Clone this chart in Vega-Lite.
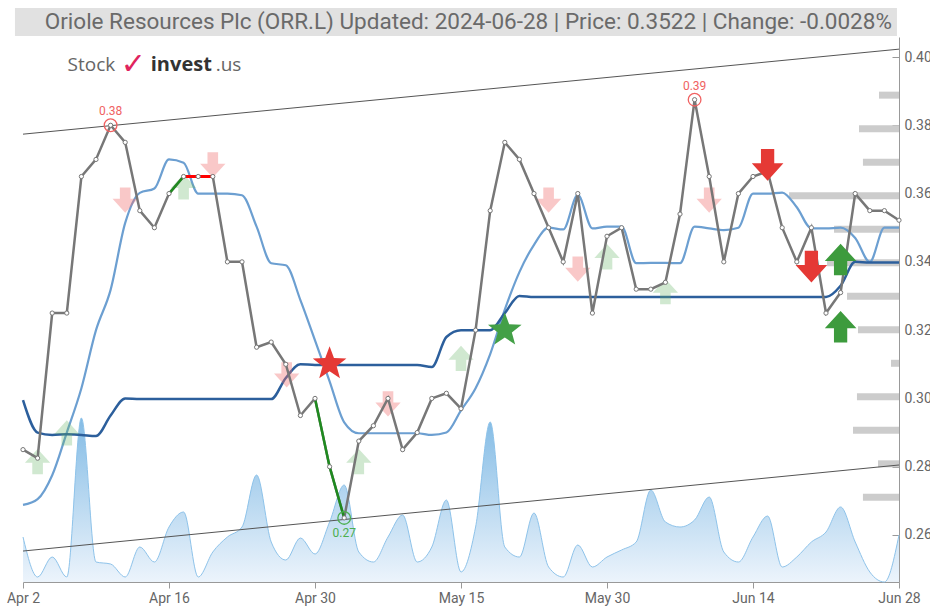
{
  "$schema": "https://vega.github.io/schema/vega-lite/v6.json",
  "autosize": {"type": "none"},
  "padding": {"left": 23, "top": 37, "right": 31, "bottom": 26},
  "width": 876,
  "height": 545,
  "config": {
    "view": {"stroke": null},
    "font": "Roboto, Liberation Sans, sans-serif"
  },
  "datasets": {
    "price": [
      {"i":0,"v":0.285},{"i":1,"v":0.2825},{"i":2,"v":0.325},{"i":3,"v":0.325},{"i":4,"v":0.365},{"i":5,"v":0.37},
      {"i":6,"v":0.38},{"i":7,"v":0.375},{"i":8,"v":0.355},{"i":9,"v":0.35},{"i":10,"v":0.36},{"i":11,"v":0.365},
      {"i":12,"v":0.365},{"i":13,"v":0.365},{"i":14,"v":0.34},{"i":15,"v":0.34},{"i":16,"v":0.315},{"i":17,"v":0.3165},
      {"i":18,"v":0.31},{"i":19,"v":0.295},{"i":20,"v":0.3},{"i":21,"v":0.28},{"i":22,"v":0.265},{"i":23,"v":0.2875},
      {"i":24,"v":0.292},{"i":25,"v":0.3},{"i":26,"v":0.285},{"i":27,"v":0.29},{"i":28,"v":0.3},{"i":29,"v":0.3015},
      {"i":30,"v":0.297},{"i":31,"v":0.32},{"i":32,"v":0.355},{"i":33,"v":0.375},{"i":34,"v":0.37},{"i":35,"v":0.36},
      {"i":36,"v":0.35},{"i":37,"v":0.34},{"i":38,"v":0.36},{"i":39,"v":0.325},{"i":40,"v":0.3475},{"i":41,"v":0.35},
      {"i":42,"v":0.332},{"i":43,"v":0.332},{"i":44,"v":0.334},{"i":45,"v":0.354},{"i":46,"v":0.3875},{"i":47,"v":0.365},
      {"i":48,"v":0.34},{"i":49,"v":0.36},{"i":50,"v":0.365},{"i":51,"v":0.3665},{"i":52,"v":0.35},{"i":53,"v":0.34},
      {"i":54,"v":0.35},{"i":55,"v":0.325},{"i":56,"v":0.331},{"i":57,"v":0.36},{"i":58,"v":0.355},{"i":59,"v":0.355},
      {"i":60,"v":0.3522}
    ],
    "greenSeg": [
      {"i":10,"v":0.36,"g":"a"},{"i":11,"v":0.365,"g":"a"},
      {"i":20,"v":0.3,"g":"b"},{"i":21,"v":0.28,"g":"b"},{"i":22,"v":0.265,"g":"b"}
    ],
    "redSeg": [
      {"i":11,"v":0.365},{"i":12,"v":0.365},{"i":13,"v":0.365}
    ],
    "band": [
      {"i":0,"v":0.2688},{"i":1,"v":0.2705},{"i":2,"v":0.2775},{"i":3,"v":0.29},{"i":4,"v":0.303},{"i":5,"v":0.32},
      {"i":6,"v":0.3318},{"i":7,"v":0.3514},{"i":8,"v":0.3602},{"i":9,"v":0.3615},{"i":10,"v":0.37},{"i":11,"v":0.369},
      {"i":12,"v":0.36},{"i":13,"v":0.36},{"i":14,"v":0.36},{"i":15,"v":0.3595},{"i":16,"v":0.3503},{"i":17,"v":0.3396},
      {"i":18,"v":0.339},{"i":19,"v":0.3288},{"i":20,"v":0.317},{"i":21,"v":0.305},{"i":22,"v":0.293},{"i":23,"v":0.2898},
      {"i":24,"v":0.2898},{"i":25,"v":0.2898},{"i":26,"v":0.2898},{"i":27,"v":0.2898},{"i":28,"v":0.2893},{"i":29,"v":0.29},
      {"i":30,"v":0.2965},{"i":31,"v":0.303},{"i":32,"v":0.313},{"i":33,"v":0.326},{"i":34,"v":0.337},{"i":35,"v":0.345},
      {"i":36,"v":0.35},{"i":37,"v":0.3495},{"i":38,"v":0.3596},{"i":39,"v":0.3498},{"i":40,"v":0.3503},{"i":41,"v":0.3503},
      {"i":42,"v":0.3396},{"i":43,"v":0.3397},{"i":44,"v":0.3397},{"i":45,"v":0.3396},{"i":46,"v":0.3503},{"i":47,"v":0.3498},
      {"i":48,"v":0.3493},{"i":49,"v":0.35},{"i":50,"v":0.36},{"i":51,"v":0.36},{"i":52,"v":0.3603},{"i":53,"v":0.356},
      {"i":54,"v":0.3498},{"i":55,"v":0.3498},{"i":56,"v":0.35},{"i":57,"v":0.347},{"i":58,"v":0.34},{"i":59,"v":0.35},
      {"i":60,"v":0.35}
    ],
    "base": [
      {"i":0,"v":0.2995},{"i":1,"v":0.29},{"i":2,"v":0.2893},{"i":3,"v":0.2895},{"i":4,"v":0.2893},{"i":5,"v":0.289},
      {"i":6,"v":0.295},{"i":7,"v":0.3},{"i":8,"v":0.2998},{"i":9,"v":0.2998},{"i":10,"v":0.2998},{"i":11,"v":0.2998},
      {"i":12,"v":0.2998},{"i":13,"v":0.2998},{"i":14,"v":0.2998},{"i":15,"v":0.2998},{"i":16,"v":0.2998},{"i":17,"v":0.2998},
      {"i":18,"v":0.306},{"i":19,"v":0.31},{"i":20,"v":0.3098},{"i":21,"v":0.3098},{"i":22,"v":0.3098},{"i":23,"v":0.3098},
      {"i":24,"v":0.3098},{"i":25,"v":0.3098},{"i":26,"v":0.3098},{"i":27,"v":0.3098},{"i":28,"v":0.3092},{"i":29,"v":0.318},
      {"i":30,"v":0.32},{"i":31,"v":0.32},{"i":32,"v":0.32},{"i":33,"v":0.325},{"i":34,"v":0.33},{"i":35,"v":0.3297},
      {"i":36,"v":0.3297},{"i":40,"v":0.3297},{"i":45,"v":0.3297},{"i":50,"v":0.3297},{"i":55,"v":0.3297},
      {"i":56,"v":0.333},{"i":57,"v":0.34},{"i":58,"v":0.3398},{"i":59,"v":0.3398},{"i":60,"v":0.3398}
    ],
    "vol": [
      {"i":0,"vol":45},{"i":1,"vol":5},{"i":2,"vol":25},{"i":3,"vol":5},{"i":4,"vol":164},{"i":5,"vol":20},
      {"i":6,"vol":18},{"i":7,"vol":5},{"i":8,"vol":35},{"i":9,"vol":20},{"i":10,"vol":55},{"i":11,"vol":70},
      {"i":12,"vol":5},{"i":13,"vol":30},{"i":14,"vol":45},{"i":15,"vol":55},{"i":16,"vol":107},{"i":17,"vol":40},
      {"i":18,"vol":22},{"i":19,"vol":44},{"i":20,"vol":28},{"i":21,"vol":60},{"i":22,"vol":97},{"i":23,"vol":30},
      {"i":24,"vol":20},{"i":25,"vol":45},{"i":26,"vol":67},{"i":27,"vol":20},{"i":28,"vol":35},{"i":29,"vol":82},
      {"i":30,"vol":10},{"i":31,"vol":55},{"i":32,"vol":160},{"i":33,"vol":35},{"i":34,"vol":25},{"i":35,"vol":69},
      {"i":36,"vol":15},{"i":37,"vol":5},{"i":38,"vol":37},{"i":39,"vol":15},{"i":40,"vol":25},{"i":41,"vol":32},
      {"i":42,"vol":40},{"i":43,"vol":92},{"i":44,"vol":60},{"i":45,"vol":55},{"i":46,"vol":62},{"i":47,"vol":85},
      {"i":48,"vol":30},{"i":49,"vol":20},{"i":50,"vol":45},{"i":51,"vol":66},{"i":52,"vol":15},{"i":53,"vol":25},
      {"i":54,"vol":40},{"i":55,"vol":50},{"i":56,"vol":75},{"i":57,"vol":40},{"i":58,"vol":10},{"i":59,"vol":0},
      {"i":60,"vol":47}
    ],
    "levels": [
      {"v":0.39,"i":58.63,"end":60},{"v":0.38,"i":57.26,"end":60},{"v":0.37,"i":57.53,"end":60},
      {"v":0.36,"i":52.47,"end":60},{"v":0.35,"i":55.55,"end":60},{"v":0.34,"i":55.07,"end":60},
      {"v":0.33,"i":56.44,"end":60},{"v":0.32,"i":57.19,"end":60},{"v":0.31,"i":59.45,"end":60},
      {"v":0.30,"i":57.12,"end":60},{"v":0.29,"i":56.85,"end":60},{"v":0.28,"i":58.56,"end":60},
      {"v":0.27,"i":57.53,"end":60}
    ],
    "trend": [
      {"i":0,"v":0.3774,"g":"upper"},{"i":60,"v":0.4023,"g":"upper"},
      {"i":0,"v":0.2553,"g":"lower"},{"i":60,"v":0.2805,"g":"lower"}
    ],
    "arrowsFaint": [
      {"i":7,"v":0.3581,"signal":"sell"},{"i":13,"v":0.3684,"signal":"sell"},{"i":18.06,"v":0.3069,"signal":"sell"},
      {"i":25,"v":0.2984,"signal":"sell"},{"i":36,"v":0.3581,"signal":"sell"},{"i":38,"v":0.3379,"signal":"sell"},
      {"i":47,"v":0.3581,"signal":"sell"},
      {"i":1,"v":0.2815,"signal":"buy"},{"i":3,"v":0.2899,"signal":"buy"},{"i":11,"v":0.362,"signal":"buy"},
      {"i":23,"v":0.2815,"signal":"buy"},{"i":30,"v":0.3117,"signal":"buy"},{"i":40,"v":0.3415,"signal":"buy"},
      {"i":44,"v":0.3313,"signal":"buy"}
    ],
    "arrowsStrong": [
      {"i":51,"v":0.3684,"signal":"sell"},{"i":54,"v":0.3386,"signal":"sell"},
      {"i":56,"v":0.3407,"signal":"buy"},{"i":56,"v":0.321,"signal":"buy"}
    ],
    "stars": [
      {"i":21,"v":0.3101,"signal":"sell"},{"i":33,"v":0.32,"signal":"buy"}
    ],
    "highs": [
      {"i":6,"v":0.38,"label":"0.38"},{"i":46,"v":0.3875,"label":"0.39"}
    ],
    "lows": [
      {"i":22,"v":0.265,"label":"0.27"}
    ],
    "headerBand": [
      {"i":-0.55,"i2":59.86,"v":0.40615,"v2":0.41435}
    ],
    "headerText": [
      {"i":30.5,"v":0.41025,"t":"Oriole Resources Plc (ORR.L)   Updated: 2024-06-28 | Price: 0.3522 | Change: -0.0028%"}
    ]
  },
  "encoding": {
    "x": {
      "field": "i", "type": "quantitative",
      "scale": {"domain": [0, 60], "nice": false, "zero": false},
      "axis": {
        "orient": "bottom",
        "values": [0, 10, 20, 30, 40, 50, 60],
        "labelExpr": "['Apr 2','Apr 16','Apr 30','May 15','May 30','Jun 14','Jun 28'][round(datum.value/10)]",
        "labelFlush": false, "grid": false, "title": null,
        "domainColor": "#999", "tickColor": "#999", "tickSize": 6,
        "labelColor": "#666", "labelFontSize": 14, "labelPadding": 3
      }
    },
    "y": {
      "field": "v", "type": "quantitative",
      "scale": {"domain": [0.24623, 0.40586], "nice": false, "zero": false},
      "axis": null
    }
  },
  "layer": [
    {
      "data": {"name": "vol"},
      "mark": {
        "type": "area", "interpolate": "monotone",
        "line": {"color": "#8ec3ea", "strokeWidth": 1},
        "color": {"gradient": "linear", "x1": 0, "y1": 0, "x2": 0, "y2": 1,
          "stops": [{"offset": 0, "color": "#4f9fda"}, {"offset": 1, "color": "#e4effa"}]}
      },
      "encoding": {
        "y": {"field": "vol", "type": "quantitative", "scale": {"domain": [0, 545], "nice": false}, "axis": null}
      }
    },
    {
      "data": {"name": "headerBand"},
      "mark": {"type": "rect", "color": "#e1e1e1"},
      "encoding": {"x2": {"field": "i2"}, "y2": {"field": "v2"}}
    },
    {
      "data": {"name": "headerText"},
      "mark": {"type": "text", "fontSize": 22.5, "color": "#6a6a6a", "align": "center", "baseline": "middle"},
      "encoding": {"text": {"field": "t", "type": "nominal"}}
    },
    {
      "data": {"name": "levels"},
      "mark": {"type": "bar", "size": 7, "color": "#cccccc"},
      "encoding": {"x2": {"field": "end"}}
    },
    {
      "data": {"name": "trend"},
      "mark": {"type": "line", "color": "#555555", "strokeWidth": 1},
      "encoding": {"detail": {"field": "g", "type": "nominal"}}
    },
    {
      "data": {"name": "band"},
      "mark": {"type": "line", "color": "#6c9fd1", "strokeWidth": 2.2, "interpolate": "monotone"},
      "encoding": {}
    },
    {
      "data": {"name": "base"},
      "mark": {"type": "line", "color": "#2c5f9c", "strokeWidth": 2.5, "interpolate": "monotone"},
      "encoding": {}
    },
    {
      "data": {"name": "arrowsFaint"},
      "mark": {"type": "point", "filled": true, "size": 640, "opacity": 1, "strokeWidth": 0},
      "encoding": {
        "shape": {"field": "signal", "type": "nominal", "legend": null,
          "scale": {"domain": ["sell", "buy"], "range": ["M-0.42,-1L0.42,-1L0.42,-0.1L1,-0.1L0,1L-1,-0.1L-0.42,-0.1Z", "M-0.42,1L0.42,1L0.42,0.1L1,0.1L0,-1L-1,0.1L-0.42,0.1Z"]}},
        "color": {"field": "signal", "type": "nominal", "legend": null,
          "scale": {"domain": ["sell", "buy"], "range": ["rgba(238,110,110,0.38)", "rgba(100,180,100,0.3)"]}}
      }
    },
    {
      "data": {"name": "price"},
      "mark": {"type": "line", "color": "#777777", "strokeWidth": 2.5},
      "encoding": {
        "y": {
          "field": "v", "type": "quantitative",
          "scale": {"domain": [0.24623, 0.40586], "nice": false, "zero": false},
          "axis": {
            "orient": "right", "values": [0.26, 0.28, 0.30, 0.32, 0.34, 0.36, 0.38, 0.40],
            "format": ".2f", "grid": false, "title": null,
            "domainColor": "#999", "tickColor": "#999", "tickSize": -7, "labelPadding": 12,
            "labelColor": "#666", "labelFontSize": 14
          }
        }
      }
    },
    {
      "data": {"name": "greenSeg"},
      "mark": {"type": "line", "color": "#1f8a1f", "strokeWidth": 2.5},
      "encoding": {"detail": {"field": "g", "type": "nominal"}}
    },
    {
      "data": {"name": "redSeg"},
      "mark": {"type": "line", "color": "#ff0000", "strokeWidth": 3},
      "encoding": {}
    },
    {
      "data": {"name": "price"},
      "mark": {"type": "point", "filled": true, "fill": "#ffffff", "stroke": "#777777", "strokeWidth": 1, "size": 18, "opacity": 1}
    },
    {
      "data": {"name": "stars"},
      "mark": {"type": "point", "filled": true, "size": 1250, "opacity": 1, "strokeWidth": 0,
        "shape": "M0,-1L0.247,-0.34L0.951,-0.309L0.399,0.13L0.588,0.809L0,0.42L-0.588,0.809L-0.399,0.13L-0.951,-0.309L-0.247,-0.34Z"},
      "encoding": {
        "color": {"field": "signal", "type": "nominal", "legend": null,
          "scale": {"domain": ["sell", "buy"], "range": ["#e53935", "#43a047"]}}
      }
    },
    {
      "data": {"name": "arrowsStrong"},
      "mark": {"type": "point", "filled": true, "size": 1000, "opacity": 1, "strokeWidth": 0},
      "encoding": {
        "shape": {"field": "signal", "type": "nominal", "legend": null,
          "scale": {"domain": ["sell", "buy"], "range": ["M-0.42,-1L0.42,-1L0.42,-0.1L1,-0.1L0,1L-1,-0.1L-0.42,-0.1Z", "M-0.42,1L0.42,1L0.42,0.1L1,0.1L0,-1L-1,0.1L-0.42,0.1Z"]}},
        "color": {"field": "signal", "type": "nominal", "legend": null,
          "scale": {"domain": ["sell", "buy"], "range": ["#e53935", "#3d9b3d"]}}
      }
    },
    {
      "data": {"name": "highs"},
      "mark": {"type": "point", "shape": "circle", "filled": false, "size": 160, "strokeWidth": 1.3, "color": "#f06262", "opacity": 1}
    },
    {
      "data": {"name": "highs"},
      "mark": {"type": "text", "color": "#f06262", "fontSize": 12, "dy": -14},
      "encoding": {"text": {"field": "label", "type": "nominal"}}
    },
    {
      "data": {"name": "lows"},
      "mark": {"type": "point", "shape": "circle", "filled": false, "size": 160, "strokeWidth": 1.3, "color": "#4caf50", "opacity": 1}
    },
    {
      "data": {"name": "lows"},
      "mark": {"type": "text", "color": "#4caf50", "fontSize": 12, "dy": 15},
      "encoding": {"text": {"field": "label", "type": "nominal"}}
    },
    {
      "data": {"values": [{"i": 3.05, "v": 0.3977, "t": "Stock"}]},
      "mark": {"type": "text", "align": "left", "baseline": "middle", "fontSize": 19, "color": "#666666", "font": "Open Sans, sans-serif"},
      "encoding": {"text": {"field": "t", "type": "nominal"}}
    },
    {
      "data": {"values": [{"i": 6.7, "v": 0.3977, "t": "✓"}]},
      "mark": {"type": "text", "align": "left", "baseline": "middle", "fontSize": 30, "fontWeight": "bold", "color": "#e0245e", "font": "DejaVu Sans, sans-serif"},
      "encoding": {"text": {"field": "t", "type": "nominal"}}
    },
    {
      "data": {"values": [{"i": 8.75, "v": 0.3977, "t": "invest"}]},
      "mark": {"type": "text", "align": "left", "baseline": "middle", "fontSize": 20, "fontWeight": "bold", "color": "#333333", "font": "Open Sans, sans-serif"},
      "encoding": {"text": {"field": "t", "type": "nominal"}}
    },
    {
      "data": {"values": [{"i": 13.2, "v": 0.3977, "t": ".us"}]},
      "mark": {"type": "text", "align": "left", "baseline": "middle", "fontSize": 19, "color": "#666666", "font": "Open Sans, sans-serif"},
      "encoding": {"text": {"field": "t", "type": "nominal"}}
    }
  ],
  "resolve": {"scale": {"y": "independent", "color": "independent", "shape": "independent"}}
}
